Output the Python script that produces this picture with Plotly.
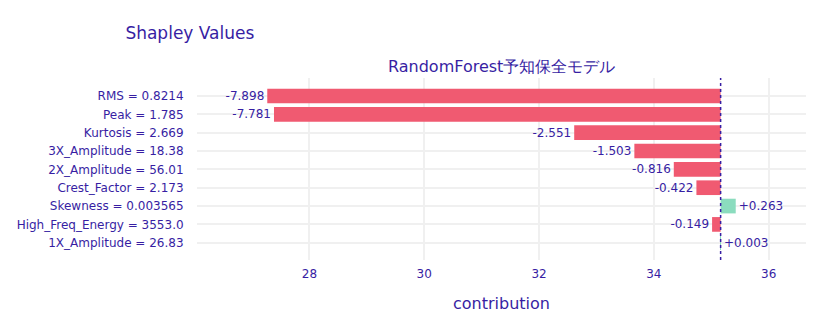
import plotly.graph_objects as go

features = ["RMS = 0.8214", "Peak = 1.785", "Kurtosis = 2.669", "3X_Amplitude = 18.38",
            "2X_Amplitude = 56.01", "Crest_Factor = 2.173", "Skewness = 0.003565",
            "High_Freq_Energy = 3553.0", "1X_Amplitude = 26.83"]
contributions = [-7.898, -7.781, -2.551, -1.503, -0.816, -0.422, 0.263, -0.149, 0.003]
baseline = 35.163
x_ticks = [28, 30, 32, 34, 36]

TXT = "#371ea3"
FONT = "DejaVu Sans"
colors = ["#8bdcbe" if c > 0 else "#f05a71" for c in contributions]
labels = [f"{c:+.3f}" for c in contributions]

fig = go.Figure(go.Bar(
    y=features, x=contributions, base=baseline, orientation="h",
    marker=dict(color=colors, line=dict(width=0)),
    text=labels, textposition="outside", cliponaxis=False, constraintext="none",
    textfont=dict(color=TXT, size=12, family=FONT), width=0.8,
))

lo = baseline + min(contributions)
hi = baseline + max(contributions)
d = hi - lo

fig.add_shape(type="line", x0=baseline, x1=baseline, xref="x", yref="paper", y0=0, y1=1,
              line=dict(color=TXT, width=1.5, dash="dot"))

fig.add_annotation(text="RandomForest予知保全モデル", x=0.5, y=1, xref="paper", yref="paper",
                   xanchor="center", yanchor="bottom", showarrow=False, yshift=0,
                   font=dict(size=16, color=TXT, family=FONT))

fig.update_layout(
    width=836, height=333,
    margin=dict(l=197, r=30, t=78, b=73),
    paper_bgcolor="white", plot_bgcolor="white",
    font=dict(color=TXT, size=12, family=FONT),
    title=dict(text="Shapley Values", x=0.15, y=0.9, yref="container", yanchor="middle",
               font=dict(size=17, color=TXT, family=FONT)),
    showlegend=False,
    xaxis=dict(range=[lo - 0.15 * d, hi + 0.15 * d], tickvals=x_ticks, showgrid=True,
               gridcolor="#f0f0f0", gridwidth=2, zeroline=False, ticks="outside", ticklen=3,
               tickcolor="white", title=dict(text="contribution", font=dict(size=16), standoff=17),
               fixedrange=True),
    yaxis=dict(type="category", categoryorder="array", categoryarray=features,
               range=[8.94, -0.98], showgrid=True, gridcolor="#f0f0f0", gridwidth=2,
               ticks="outside", ticklen=10, tickcolor="white", automargin=False),
)

fig.write_html("out.html")
